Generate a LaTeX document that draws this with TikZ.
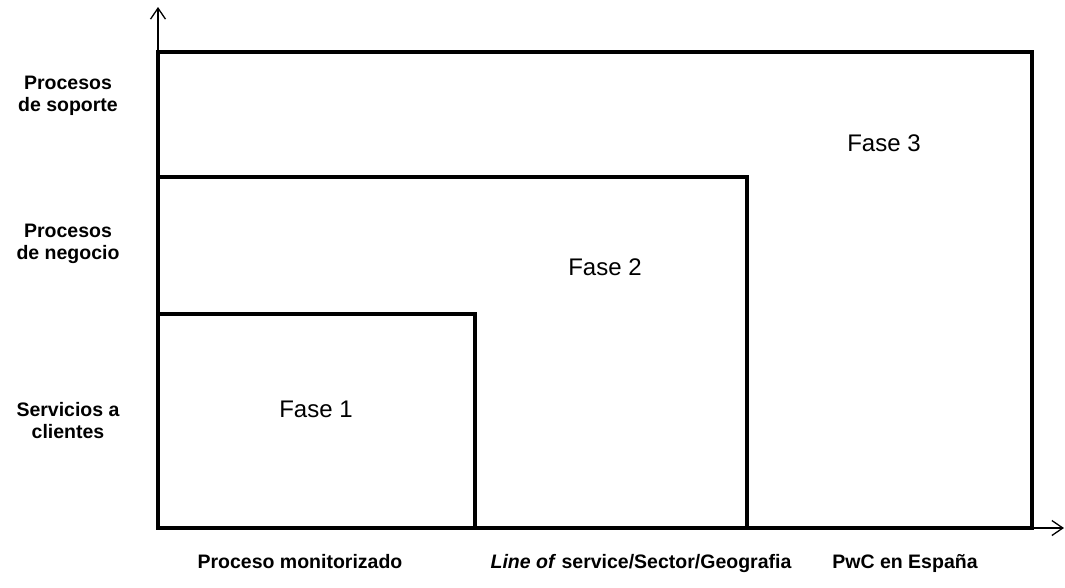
\documentclass[tikz,border=0pt]{standalone}
\usepackage{fontspec}
\setmainfont{Liberation Sans}
\usetikzlibrary{arrows.meta}
\begin{document}
\begin{tikzpicture}[x=1pt,y=-1pt,
  phasebox/.style={line width=3.2pt,line join=miter},
  axis/.style={line width=1.3pt,-{Straight Barb[length=11pt,width=15pt,line width=1.3pt]}},
  rowlabel/.style={font=\fontsize{19.5}{22}\selectfont\bfseries,align=center},
  collabel/.style={font=\fontsize{19.5}{22}\selectfont\bfseries,anchor=base},
  phaselabel/.style={font=\fontsize{24}{28}\selectfont}]
\useasboundingbox (0,0) rectangle (1065,587);
% corners of the three nested phases
\coordinate (O) at (158,528);
\coordinate (f3) at (1032,52);
\coordinate (f2) at (747,177);
\coordinate (f1) at (475,314);
\coordinate (ytop) at (158,7);
\coordinate (xend) at (1064,528);
% phase rectangles
\draw[phasebox] (O) rectangle (f3);
\draw[phasebox] (O) rectangle (f2);
\draw[phasebox] (O) rectangle (f1);
% axes
\draw[axis] (O) -- (ytop);
\draw[axis] (O) -- (xend);
% phase names
\node[phaselabel] (p1) at (316,409) {Fase 1};
\node[phaselabel] (p2) at (605,267) {Fase 2};
\node[phaselabel] (p3) at (884,143) {Fase 3};
% vertical axis labels
\node[rowlabel] (r3) at (68,96) {Procesos\\de soporte};
\node[rowlabel] (r2) at (68,244) {Procesos\\de negocio};
\node[rowlabel] (r1) at (68,421) {Servicios a\\clientes};
% horizontal axis labels
\node[collabel] (c1) at (300,568) {Proceso monitorizado};
\node[collabel] (c2) at (641,568) {\textit{Line of} service/Sector/Geografia};
\node[collabel] (c3) at (905,568) {PwC en España};
\end{tikzpicture}
\end{document}
